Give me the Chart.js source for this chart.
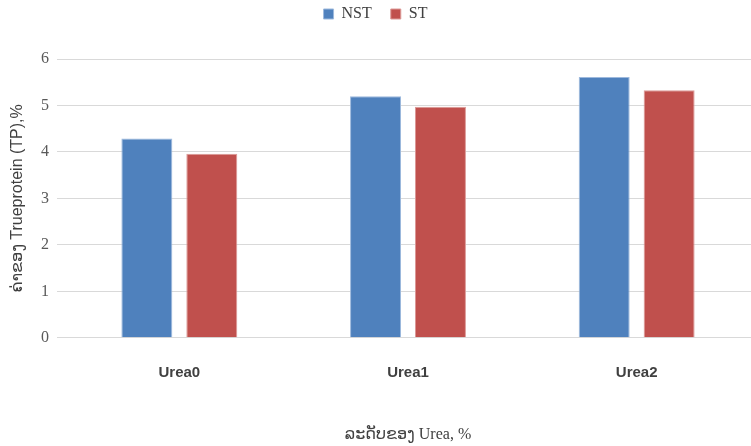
<!DOCTYPE html>
<html>
<head>
<meta charset="utf-8">
<script src="https://cdn.jsdelivr.net/npm/chart.js@4"></script>
<style>
  html, body { margin: 0; padding: 0; background: #fff; }
  #wrap { width: 751px; height: 446px; }
</style>
</head>
<body>
<div id="wrap"><canvas id="tpChart"></canvas></div>
<script>
// values
const categories = ["Urea0", "Urea1", "Urea2"];
const nstValues = [4.29, 5.2, 5.61];
const stValues = [3.96, 4.97, 5.33];
const seriesNames = ["NST", "ST"];
const yTicks = [0, 1, 2, 3, 4, 5, 6];
const yTitle = "ຄ່າຂອງ Trueprotein (TP),%";
const xTitle = "ລະດັບຂອງ Urea, %";

// legend keeps its padding but reserves more room under it
const legendSpace = {
  id: "legendSpace",
  beforeInit(chart) {
    const fit = chart.legend.fit;
    chart.legend.fit = function () {
      fit.call(this);
      this.height += 27;
    };
  },
};

const ctx = document.getElementById("tpChart").getContext("2d");
new Chart(ctx, {
  type: "bar",
  data: {
    labels: categories,
    datasets: [
      {
        label: seriesNames[0],
        data: nstValues,
        backgroundColor: "#4F81BD",
        borderColor: "#9db9dd",
        borderWidth: 1,
        categoryPercentage: 0.568,
        barPercentage: 0.785,
      },
      {
        label: seriesNames[1],
        data: stValues,
        backgroundColor: "#C0504D",
        borderColor: "#dc9a98",
        borderWidth: 1,
        categoryPercentage: 0.568,
        barPercentage: 0.785,
      },
    ],
  },
  plugins: [legendSpace],
  options: {
    responsive: true,
    maintainAspectRatio: false,
    animation: false,
    layout: { padding: { left: 0, right: 0, top: -13, bottom: 2 } },
    plugins: {
      tooltip: { enabled: false },
      legend: {
        position: "top",
        labels: {
          boxWidth: 10,
          boxHeight: 10,
          padding: 19,
          color: "#404040",
          font: { family: "Liberation Serif", size: 16 },
        },
      },
    },
    scales: {
      x: {
        grid: { display: false },
        border: { color: "#d9d9d9" },
        ticks: {
          color: "#404040",
          padding: 18,
          font: { family: "Liberation Sans", size: 15, weight: "bold" },
        },
        title: {
          display: true,
          text: xTitle,
          color: "#404040",
          padding: { top: 25, bottom: 0 },
          font: { family: "Liberation Serif, Noto Sans, DejaVu Sans", size: 16 },
        },
      },
      y: {
        min: 0,
        max: 6,
        afterBuildTicks: (scale) => {
          scale.ticks = yTicks.map((v) => ({ value: v }));
        },
        afterFit: (scale) => {
          scale.width = 65;
        },
        grid: { color: "#d9d9d9", tickLength: 8, tickColor: "#d9d9d9" },
        border: { display: false },
        ticks: {
          color: "#595959",
          padding: 8,
          font: { family: "Liberation Serif", size: 16 },
        },
        title: {
          display: true,
          text: yTitle,
          color: "#404040",
          padding: { top: 8, bottom: 0 },
          font: { family: "Liberation Sans, Noto Sans, DejaVu Sans", size: 16 },
        },
      },
    },
  },
});
</script>
</body>
</html>
